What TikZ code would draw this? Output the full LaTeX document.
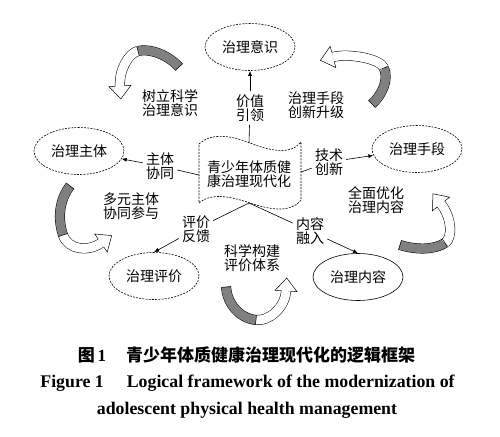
\documentclass[tikz,border=0pt]{standalone}
\usepackage{fontspec}
\setmainfont{Liberation Serif}
\newfontfamily\cjk{Noto Sans CJK SC}
\usetikzlibrary{shapes.geometric,calc,arrows.meta}
\newcommand{\lblfont}{\cjk\fontsize{14}{14.5}\selectfont}
\newcommand{\ribbon}[7]{%
  \draw[bandgray] (#1) .. controls (#2) and (#3) .. (#4);
  \draw[bandwhite] (#4) .. controls (#5) and (#6) .. (#7);
  \draw[edge] ($(#1)!5pt!90:(#2)$) -- ($(#1)!5pt!-90:(#2)$);
  \draw[edge] ($(#4)!5pt!90:(#5)$) -- ($(#4)!5pt!-90:(#5)$);
  \coordinate (hT) at ($(#7)!13pt!180:(#6)$);
  \coordinate (hA) at ($(#7)!11pt!90:(hT)$);
  \coordinate (hB) at ($(#7)!11pt!-90:(hT)$);
  \coordinate (hC) at ($(#7)!4.75pt!90:(hT)$);
  \coordinate (hD) at ($(#7)!4.75pt!-90:(hT)$);
  \fill[white] (hA) -- (hT) -- (hB) -- cycle;
  \draw[edge] (hC) -- (hA) -- (hT) -- (hB) -- (hD);
}
\begin{document}
\begin{tikzpicture}[x=1pt,y=1pt,
  edge/.style={draw=black, line width=0.5pt, line join=miter},
  bandgray/.style={draw=black, line width=0.5pt, double=black!50, double distance=9pt},
  bandwhite/.style={draw=black, line width=0.5pt, double=white, double distance=9pt},
  dashline/.style={draw=black, line width=0.6pt, dash pattern=on 2pt off 1.2pt},
  ell/.style={ellipse, dashline, minimum width=90pt, minimum height=47pt, inner sep=0pt, font=\lblfont},
  lbl/.style={align=center, inner sep=3pt, font=\lblfont},
  conn/.style={draw=black, line width=0.6pt},
  arr/.style={conn, -{Latex[length=5pt,width=4pt]}}]
\begin{scope}[yscale=-1]
\fill[white] (0,0) rectangle (500,436);
\useasboundingbox (0,0) rectangle (500,436);

% ellipses
\node[ell] (yishi) at (250,47) {治理意识};
\node[ell] (zhuti) at (79,151) {治理主体};
\node[ell] (shouduan) at (417,149) {治理手段};
\node[ell] (pingjia) at (154,276) {治理评价};
\node[ell, solid] (neirong) at (358,277) {治理内容};

% core
\draw[dashline] (199,144) .. controls (212,132) and (232,136) .. (250,143)
  .. controls (268,150) and (290,156) .. (301,142) -- (301,200)
  .. controls (290,214) and (268,209) .. (250,203)
  .. controls (232,197) and (212,192) .. (199,203) -- cycle;
\node[lbl] (core) at (249,174) {青少年体质健\\康治理现代化};
\coordinate (coreN) at (249,143);
\coordinate (coreW) at (199,175);
\coordinate (coreE) at (301,172);
\coordinate (coreS) at (249,203);

% connector labels
\node[lbl] (l1) at (250,108) {价值\\引领};
\node[lbl] (l2) at (160,166) {主体\\协同};
\node[lbl] (l3) at (329,162) {技术\\创新};
\node[lbl] (l4) at (196,229) {评价\\反馈};
\node[lbl] (l5) at (310,231) {内容\\融入};

% cycle labels
\node[lbl] (t1) at (170,103) {树立科学\\治理意识};
\node[lbl] (t2) at (316,105) {治理手段\\创新升级};
\node[lbl] (t3) at (131,206) {多元主体\\协同参与};
\node[lbl] (t4) at (252,258) {科学构建\\评价体系};
\node[lbl] (t5) at (376,200) {全面优化\\治理内容};

% connectors
\draw[conn] (coreN) -- (l1);
\draw[arr] (l1) -- (yishi);
\draw[conn] (coreW) -- (l2);
\draw[arr] (l2) -- (zhuti);
\draw[conn] (coreE) -- (l3);
\draw[arr] (l3) -- (shouduan);
\draw[conn] (coreS) -- (l4);
\draw[arr] (l4) -- (pingjia.north);
\draw[conn] (coreS) -- (l5);
\draw[arr] (l5) -- (neirong.north);

% curved block arrows
\ribbon{179,67}{168,55}{150,48}{138,51}{128.4,53.4}{119,70}{120,86}
\ribbon{372,104}{382,95}{389,80}{384,68}{380,58.4}{348,53}{333,57}
\ribbon{70,186}{62,196}{56,214}{63,235}{68,250}{88,252}{101,243}
\ribbon{226,287}{227,302}{238,318}{256,320}{268.6,321.4}{285,308}{286,291}
\ribbon{400,245}{416,250}{434,250}{445,243}{452.7,238.1}{452,218}{441,204}

% captions
\node[inner sep=0pt] (cap1) at (246.5,355) {\fontsize{17}{20}\selectfont{\cjk\bfseries 图}\,{\bfseries 1}\hspace{20pt}{\cjk\bfseries 青少年体质健康治理现代化的逻辑框架}};
\node[inner sep=0pt] (cap2) at (247.5,383) {\fontsize{17.8}{20}\selectfont\bfseries Figure 1\hspace{23pt}Logical framework of the modernization of};
\node[inner sep=0pt] (cap3) at (247,410) {\fontsize{17.8}{20}\selectfont\bfseries adolescent physical health management};
\end{scope}
\end{tikzpicture}
\end{document}
